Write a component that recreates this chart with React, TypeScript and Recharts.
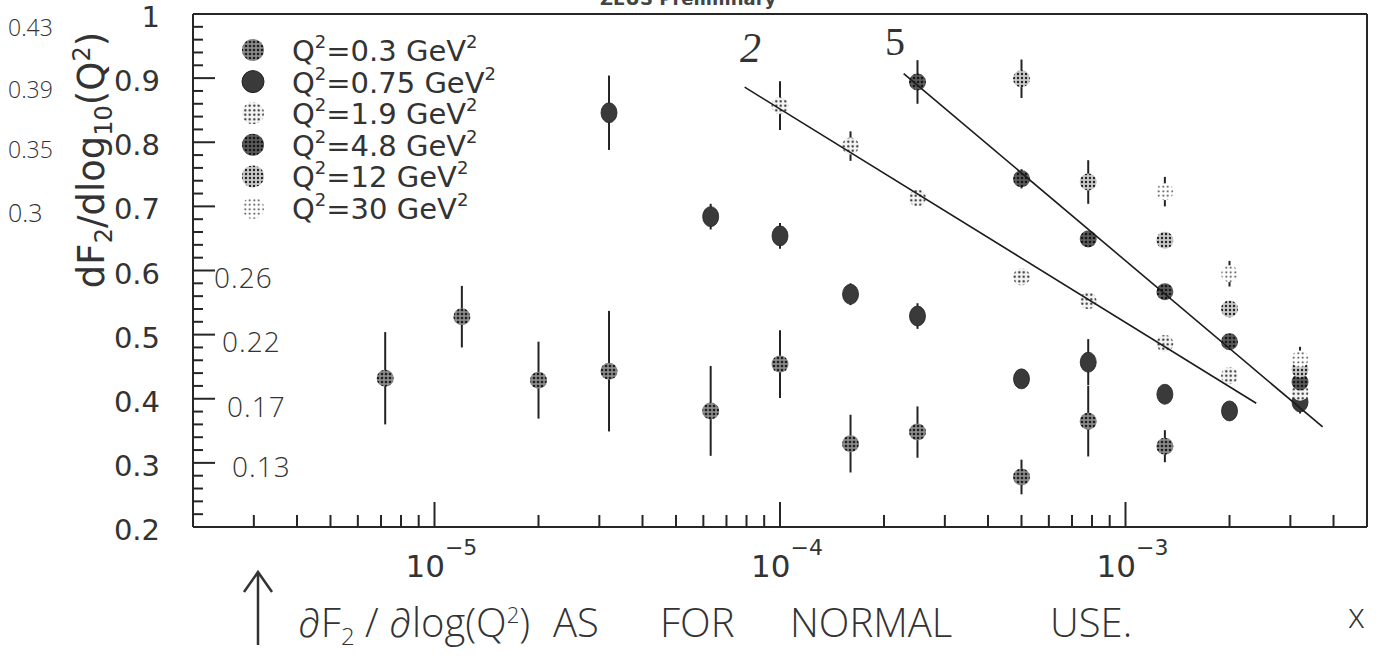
import React from "react";
import { ErrorBar, Scatter, ScatterChart, XAxis, YAxis } from "recharts";

const W = 1384;
const H = 668;

// Q^2 = 0.3 GeV^2
const X_03 = [7.2e-6, 1.2e-5, 2.0e-5, 3.2e-5, 6.3e-5, 1.0e-4, 1.6e-4, 2.5e-4, 5.0e-4, 7.8e-4, 1.3e-3];
const F_03 = [0.432, 0.528, 0.429, 0.443, 0.381, 0.454, 0.330, 0.348, 0.278, 0.365, 0.326];
const E_03 = [0.072, 0.048, 0.060, 0.094, 0.070, 0.053, 0.045, 0.040, 0.027, 0.055, 0.025];

// Q^2 = 0.75 GeV^2
const X_075 = [3.2e-5, 6.3e-5, 1.0e-4, 1.6e-4, 2.5e-4, 5.0e-4, 7.8e-4, 1.3e-3, 2.0e-3, 3.2e-3];
const F_075 = [0.846, 0.684, 0.654, 0.563, 0.529, 0.431, 0.457, 0.407, 0.381, 0.395];
const E_075 = [0.058, 0.020, 0.020, 0.017, 0.020, 0.010, 0.036, 0.010, 0.011, 0.018];

// Q^2 = 1.9 GeV^2
const X_19 = [1.0e-4, 1.6e-4, 2.5e-4, 5.0e-4, 7.8e-4, 1.3e-3, 2.0e-3, 3.2e-3];
const F_19 = [0.857, 0.794, 0.713, 0.590, 0.553, 0.486, 0.436, 0.410];
const E_19 = [0.038, 0.023, 0.009, 0.008, 0.010, 0.008, 0.008, 0.010];

// Q^2 = 4.8 GeV^2
const X_48 = [2.5e-4, 5.0e-4, 7.8e-4, 1.3e-3, 2.0e-3, 3.2e-3];
const F_48 = [0.894, 0.743, 0.649, 0.567, 0.489, 0.426];
const E_48 = [0.034, 0.015, 0.010, 0.008, 0.008, 0.010];

// Q^2 = 12 GeV^2
const X_12 = [5.0e-4, 7.8e-4, 1.3e-3, 2.0e-3, 3.2e-3];
const F_12 = [0.899, 0.738, 0.647, 0.540, 0.446];
const E_12 = [0.030, 0.034, 0.008, 0.008, 0.012];

// Q^2 = 30 GeV^2
const X_30 = [1.3e-3, 2.0e-3, 3.2e-3];
const F_30 = [0.723, 0.595, 0.462];
const E_30 = [0.023, 0.020, 0.019];

// hand-drawn straight lines ("2" and "5")
const FIT2_X = [7.9e-5, 2.39e-3];
const FIT2_Y = [0.886, 0.393];
const FIT5_X = [2.28e-4, 3.72e-3];
const FIT5_Y = [0.907, 0.356];

const LEGEND = ["0.3", "0.75", "1.9", "4.8", "12", "30"];

const Y_MAJOR = [0.2, 0.3, 0.4, 0.5, 0.6, 0.7, 0.8, 0.9, 1];
const Y_LABELS = ["0.2", "0.3", "0.4", "0.5", "0.6", "0.7", "0.8", "0.9", "1"];
const Y_MINOR = [
  0.22, 0.24, 0.26, 0.28, 0.32, 0.34, 0.36, 0.38, 0.42, 0.44, 0.46, 0.48,
  0.52, 0.54, 0.56, 0.58, 0.62, 0.64, 0.66, 0.68, 0.72, 0.74, 0.76, 0.78,
  0.82, 0.84, 0.86, 0.88, 0.92, 0.94, 0.96, 0.98,
];
const X_MAJOR = [1e-5, 1e-4, 1e-3];
const X_EXP = ["\u22125", "\u22124", "\u22123"];
const X_MINOR = [
  2e-6, 3e-6, 4e-6, 5e-6, 6e-6, 7e-6, 8e-6, 9e-6,
  2e-5, 3e-5, 4e-5, 5e-5, 6e-5, 7e-5, 8e-5, 9e-5,
  2e-4, 3e-4, 4e-4, 5e-4, 6e-4, 7e-4, 8e-4, 9e-4,
  2e-3, 3e-3, 4e-3, 5e-3,
];

// handwritten notes
const NOTES_LEFT = ["0.43", "0.39", "0.35", "0.3"];
const NOTES_IN = ["0.26", "0.22", "0.17", "0.13"];

const rows = (xs: number[], ys: number[], es?: number[]) =>
  xs.map((x, i) => ({ x, y: ys[i], e: es ? es[i] : 0 }));

const SERIES = [
  { data: rows(X_03, F_03, E_03), fill: "url(#p03)", solid: false },
  { data: rows(X_075, F_075, E_075), fill: "#3a3a3a", solid: true },
  { data: rows(X_19, F_19, E_19), fill: "url(#p19)", solid: false },
  { data: rows(X_48, F_48, E_48), fill: "url(#p48)", solid: false },
  { data: rows(X_12, F_12, E_12), fill: "url(#p12)", solid: false },
  { data: rows(X_30, F_30, E_30), fill: "url(#p30)", solid: false },
];
const LEGEND_FILL = ["url(#p03)", "#3a3a3a", "url(#p19)", "url(#p48)", "url(#p12)", "url(#p30)"];

const INK = "#262626";
const AXFONT = "'DejaVu Sans', sans-serif";
const HAND = "'Open Sans', sans-serif";

const YTick = (p: any) => {
  const v = p.payload.value;
  const i = Y_MAJOR.findIndex((m) => Math.abs(m - v) < 1e-6);
  const major = i >= 0;
  return (
    <g>
      <line x1={p.x} x2={p.x + (major ? 22 : 10)} y1={p.y} y2={p.y} stroke={INK} strokeWidth={2} />
      {major && (
        <text x={p.x - 33} y={p.y + 13} textAnchor="end" fontSize={29} fontFamily={AXFONT} fill="#333">
          {Y_LABELS[i]}
        </text>
      )}
    </g>
  );
};

const XTick = (p: any) => {
  const v = p.payload.value;
  const i = X_MAJOR.findIndex((m) => Math.abs(m - v) / m < 1e-6);
  const major = i >= 0;
  return (
    <g>
      <line x1={p.x} x2={p.x} y1={p.y} y2={p.y - (major ? 25 : 12)} stroke={INK} strokeWidth={2} />
      {major && (
        <text x={p.x - 29} y={p.y + 50} fontSize={31} fontFamily={AXFONT} fill="#333">
          10
          <tspan dy={-22} fontSize={22}>
            {X_EXP[i]}
          </tspan>
        </text>
      )}
    </g>
  );
};

const dot = (fill: string, solid: boolean) => (p: any) => {
  if (p.cx == null || p.cy == null) return <g />;
  return solid ? (
    <ellipse cx={p.cx} cy={p.cy} rx={8} ry={10} fill={fill} stroke="#222" strokeWidth={0.8} />
  ) : (
    <circle cx={p.cx} cy={p.cy} r={8.5} fill={fill} />
  );
};

const none = () => <g />;

function Patterns() {
  return (
    <defs>
      <pattern id="p03" width="4" height="4" patternUnits="userSpaceOnUse">
        <rect width="4" height="4" fill="#8a8a8a" />
        <circle cx="2" cy="2" r="1.3" fill="#1e1e1e" />
      </pattern>
      <pattern id="p19" width="4.5" height="4.5" patternUnits="userSpaceOnUse">
        <rect width="4.5" height="4.5" fill="#f4f4f4" />
        <circle cx="2.25" cy="2.25" r="1.1" fill="#222" />
      </pattern>
      <pattern id="p48" width="4" height="4" patternUnits="userSpaceOnUse">
        <rect width="4" height="4" fill="#5a5a5a" />
        <circle cx="2" cy="2" r="1.3" fill="#161616" />
      </pattern>
      <pattern id="p12" width="4" height="4" patternUnits="userSpaceOnUse">
        <rect width="4" height="4" fill="#c8c8c8" />
        <circle cx="2" cy="2" r="1.2" fill="#222" />
      </pattern>
      <pattern id="p30" width="4.5" height="4.5" patternUnits="userSpaceOnUse">
        <rect width="4.5" height="4.5" fill="#ffffff" />
        <circle cx="2.25" cy="2.25" r="0.95" fill="#333" />
      </pattern>
    </defs>
  );
}

export default function App() {
  const leftY = [36, 98, 158, 222];
  const inY = [288, 352, 417, 477];
  const inX = [214, 222, 227, 232];
  return (
    <div style={{ position: "absolute", left: 0, top: 0, width: W, height: H, overflow: "hidden", background: "#fff" }}>
      <svg width={0} height={0} style={{ position: "absolute" }}>
        <Patterns />
      </svg>
      <ScatterChart width={W} height={H} margin={{ top: 13, right: 16, bottom: 81, left: 43 }}>
        <XAxis
          dataKey="x"
          type="number"
          scale="log"
          domain={[2e-6, 5e-3]}
          allowDataOverflow
          ticks={[...X_MAJOR, ...X_MINOR]}
          interval={0}
          tick={<XTick />}
          tickSize={0}
          tickMargin={0}
          tickLine={false}
          axisLine={{ stroke: INK, strokeWidth: 2 }}
          height={60}
        />
        <XAxis xAxisId="top" orientation="top" type="number" domain={[0, 1]} tick={false} tickLine={false} axisLine={{ stroke: INK, strokeWidth: 2 }} height={1} />
        <YAxis
          dataKey="y"
          type="number"
          domain={[0.2, 1]}
          allowDataOverflow
          ticks={[...Y_MAJOR, ...Y_MINOR]}
          interval={0}
          tick={<YTick />}
          tickSize={0}
          tickMargin={0}
          tickLine={false}
          axisLine={{ stroke: INK, strokeWidth: 2 }}
          width={150}
        />
        <YAxis yAxisId="right" orientation="right" type="number" domain={[0, 1]} tick={false} tickLine={false} axisLine={{ stroke: INK, strokeWidth: 2 }} width={1} />
        {SERIES.map((s, k) => (
          <Scatter key={k} data={s.data} shape={dot(s.fill, s.solid)} isAnimationActive={false}>
            <ErrorBar dataKey="e" direction="y" width={0} stroke="#222" strokeWidth={2} />
          </Scatter>
        ))}
        <Scatter data={rows(FIT2_X, FIT2_Y)} shape={none} line={{ stroke: "#1c1c1c", strokeWidth: 1.6 }} isAnimationActive={false} />
        <Scatter data={rows(FIT5_X, FIT5_Y)} shape={none} line={{ stroke: "#1c1c1c", strokeWidth: 1.6 }} isAnimationActive={false} />
      </ScatterChart>

      <svg width={W} height={H} style={{ position: "absolute", left: 0, top: 0, pointerEvents: "none" }}>
        {/* header, cut off by the scan */}
        <text x={600} y={5} fontSize={18} fontFamily={AXFONT} fontWeight="bold" fill="#444">
          ZEUS Preliminary
        </text>

        {/* y title */}
        <text transform="translate(104,160) rotate(-90)" textAnchor="middle" fontSize={37} fontFamily={AXFONT} fill="#333">
          dF<tspan dy={8} fontSize={24}>2</tspan>
          <tspan dy={-8}>/dlog</tspan>
          <tspan dy={8} fontSize={24}>10</tspan>
          <tspan dy={-8}>(Q</tspan>
          <tspan dy={-14} fontSize={24}>2</tspan>
          <tspan dy={14}>)</tspan>
        </text>

        {/* legend */}
        {LEGEND.map((q, i) => {
          const y = 50 + i * 31.6;
          return (
            <g key={q}>
              <circle cx={253} cy={y} r={11} fill={LEGEND_FILL[i]} stroke={i === 1 ? "#222" : "none"} />
              <text x={292} y={y + 11} fontSize={29} fontFamily={AXFONT} fill="#333">
                Q<tspan dy={-13} fontSize={18}>2</tspan>
                <tspan dy={13}>={q} GeV</tspan>
                <tspan dy={-13} fontSize={18}>2</tspan>
              </text>
            </g>
          );
        })}

        {/* handwritten notes */}
        {NOTES_LEFT.map((t, i) => (
          <text key={t} x={8} y={leftY[i]} fontSize={i === 3 ? 25 : 23} fontFamily={HAND} fontWeight={300} fill="#333">
            {t}
          </text>
        ))}
        {NOTES_IN.map((t, i) => (
          <text key={t} x={inX[i]} y={inY[i]} fontSize={28} fontFamily={HAND} fontWeight={300} letterSpacing={1} fill="#333">
            {t}
          </text>
        ))}
        <text x={740} y={62} fontSize={42} fontFamily="'Liberation Serif', serif" fontStyle="italic" fill="#333">
          2
        </text>
        <text x={885} y={55} fontSize={40} fontFamily="'Liberation Serif', serif" fill="#333">
          5
        </text>

        <path d="M258 645 L258 572 M244 592 L258 572 L272 592" stroke="#333" strokeWidth={2.5} fill="none" />
        <g fontFamily={HAND} fontWeight={300} fill="#333" fontSize={40}>
          <text x={298} y={637}>
            ∂F<tspan dy={8} fontSize={24}>2</tspan>
            <tspan dy={-8}> / ∂log(Q</tspan>
            <tspan dy={-14} fontSize={22}>2</tspan>
            <tspan dy={14}>)</tspan>
          </text>
          <text x={553} y={637}>AS</text>
          <text x={660} y={637}>FOR</text>
          <text x={790} y={637}>NORMAL</text>
          <text x={1050} y={637}>USE.</text>
          <text x={1348} y={628} fontSize={34}>x</text>
        </g>
      </svg>
    </div>
  );
}
